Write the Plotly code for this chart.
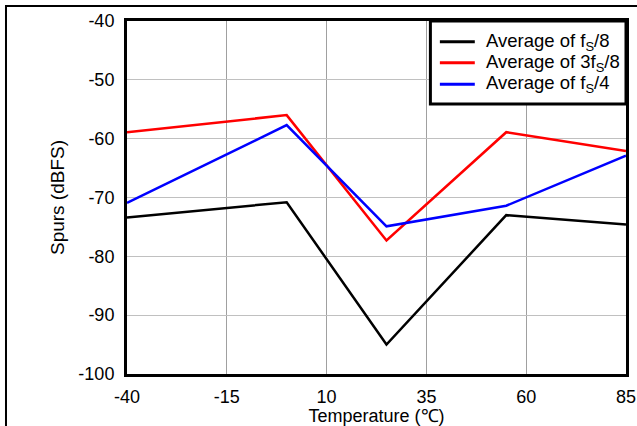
import plotly.graph_objects as go

# Data
temperature = [-40, 0, 25, 55, 85]
spur_fs8 = [-73.4, -70.8, -95.0, -73.0, -74.6]
spur_3fs8 = [-58.9, -56.0, -77.3, -58.9, -62.1]
spur_fs4 = [-70.9, -57.7, -74.9, -71.4, -62.9]

series_names = ['Average of f<sub>S</sub>/8',
                'Average of 3f<sub>S</sub>/8',
                'Average of f<sub>S</sub>/4']
series_colors = ['black', '#ff0000', '#0000ff']

x_ticks = [-40, -15, 10, 35, 60, 85]
x_labels = ['-40', '-15', '10', '35', '60', '85']
y_ticks = [-100, -90, -80, -70, -60, -50, -40]
y_labels = ['-100', '-90', '-80', '-70', '-60', '-50', '-40']

fig = go.Figure()
for ys, name, col in zip([spur_fs8, spur_3fs8, spur_fs4], series_names, series_colors):
    fig.add_trace(go.Scatter(x=temperature, y=ys, mode='lines', name=name,
                             line=dict(color=col, width=2.5)))

# thin outer frame around the whole chart
fig.add_shape(type='rect', xref='paper', yref='paper',
              x0=-0.2425, x1=1.05, y0=-0.2, y1=1.0425,
              line=dict(color='black', width=2), layer='below')

# legend box drawn by hand (plotly's legend rows are too tall)
fig.add_shape(type='rect', xref='paper', yref='paper',
              x0=0.608, x1=1.0, y0=0.765, y1=1.0,
              line=dict(color='black', width=3), fillcolor='white', layer='above')
row_y = [0.941, 0.882, 0.821]
for name, col, yy in zip(series_names, series_colors, row_y):
    fig.add_shape(type='line', xref='paper', yref='paper',
                  x0=0.627, x1=0.697, y0=yy, y1=yy,
                  line=dict(color=col, width=3))
    fig.add_annotation(xref='paper', yref='paper', x=0.716, y=yy,
                       text=name, showarrow=False, xanchor='left', yanchor='middle',
                       font=dict(size=18.5))

fig.update_layout(
    width=637, height=426,
    margin=dict(l=127, r=11, t=21, b=52),
    paper_bgcolor='white', plot_bgcolor='white',
    font=dict(family='Liberation Sans, Arial, sans-serif', size=18, color='black'),
    showlegend=False,
)
fig.update_xaxes(range=[-40, 85], tickvals=x_ticks, ticktext=x_labels, showgrid=True,
                 gridcolor='#a0a0a0', gridwidth=1, zeroline=False,
                 showline=True, linecolor='black', linewidth=3, mirror=True,
                 ticks='', ticklabelstandoff=4, automargin=False,
                 title=dict(text='Temperature (℃)', standoff=5, font=dict(size=18)))
fig.update_yaxes(range=[-100, -40], tickvals=y_ticks, ticktext=y_labels, showgrid=True,
                 gridcolor='#c0c0c0', gridwidth=1, zeroline=False,
                 showline=True, linecolor='black', linewidth=3, mirror=True,
                 ticks='', ticklabelstandoff=6, automargin=False,
                 title=dict(text='Spurs (dBFS)', standoff=9, font=dict(size=19)))

fig.write_html("out.html", config={'displayModeBar': False},
               post_script="document.body.style.margin='0';document.body.style.overflow='hidden';")
